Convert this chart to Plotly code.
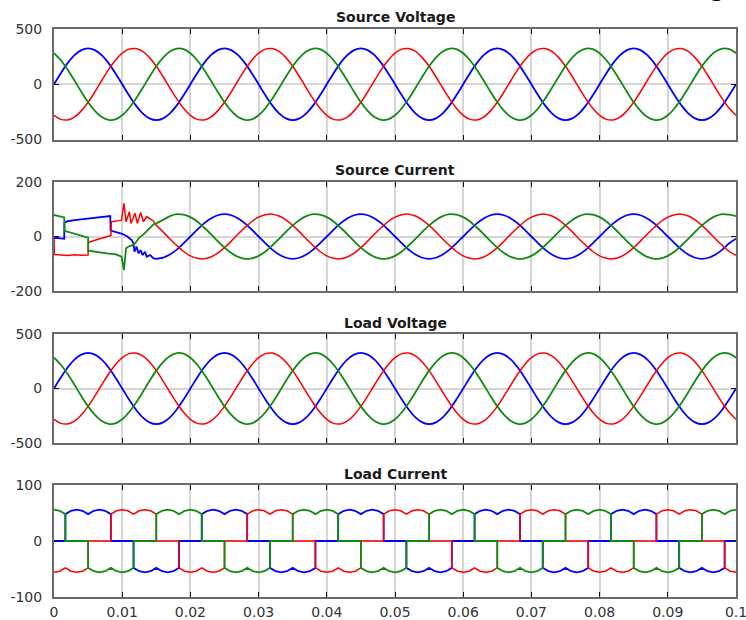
import numpy as np
import plotly.graph_objects as go

# ---------------- data ----------------
x_tick_vals = [0, 0.01, 0.02, 0.03, 0.04, 0.05, 0.06, 0.07, 0.08, 0.09, 0.1]
x_tick_text = ["0", "0.01", "0.02", "0.03", "0.04", "0.05", "0.06", "0.07", "0.08", "0.09", "0.1"]
titles = ["Source Voltage", "Source Current", "Load Voltage", "Load Current"]
y_ranges = [[-500, 500], [-200, 200], [-500, 500], [-100, 100]]
y_tick_vals = [[-500, 0, 500], [-200, 0, 200], [-500, 0, 500], [-100, 0, 100]]
y_tick_text = [["-500", "0", "500"], ["-200", "0", "200"], ["-500", "0", "500"], ["-100", "0", "100"]]

# voltage sampling: every 1 ms from 0 to 0.1 s
t_v = np.linspace(0, 0.1, 101)

source_va = [0, 100, 191, 263, 309, 325, 309, 263, 191, 100, 0, -100, -191, -263, -309, -325, -309, -263, -191, -100,
             0, 100, 191, 263, 309, 325, 309, 263, 191, 100, 0, -100, -191, -263, -309, -325, -309, -263, -191, -100,
             0, 100, 191, 263, 309, 325, 309, 263, 191, 100, 0, -100, -191, -263, -309, -325, -309, -263, -191, -100,
             0, 100, 191, 263, 309, 325, 309, 263, 191, 100, 0, -100, -191, -263, -309, -325, -309, -263, -191, -100,
             0, 100, 191, 263, 309, 325, 309, 263, 191, 100, 0, -100, -191, -263, -309, -325, -309, -263, -191, -100,
             0]
source_vb = [-281, -318, -323, -297, -241, -163, -68, 34, 132, 217, 281, 318, 323, 297, 241, 163, 68, -34, -132, -217,
             -281, -318, -323, -297, -241, -163, -68, 34, 132, 217, 281, 318, 323, 297, 241, 163, 68, -34, -132, -217,
             -281, -318, -323, -297, -241, -163, -68, 34, 132, 217, 281, 318, 323, 297, 241, 163, 68, -34, -132, -217,
             -281, -318, -323, -297, -241, -163, -68, 34, 132, 217, 281, 318, 323, 297, 241, 163, 68, -34, -132, -217,
             -281, -318, -323, -297, -241, -163, -68, 34, 132, 217, 281, 318, 323, 297, 241, 163, 68, -34, -132, -217,
             -281]
source_vc = [281, 217, 132, 34, -68, -163, -241, -297, -323, -318, -281, -217, -132, -34, 68, 163, 241, 297, 323, 318,
             281, 217, 132, 34, -68, -163, -241, -297, -323, -318, -281, -217, -132, -34, 68, 163, 241, 297, 323, 318,
             281, 217, 132, 34, -68, -163, -241, -297, -323, -318, -281, -217, -132, -34, 68, 163, 241, 297, 323, 318,
             281, 217, 132, 34, -68, -163, -241, -297, -323, -318, -281, -217, -132, -34, 68, 163, 241, 297, 323, 318,
             281, 217, 132, 34, -68, -163, -241, -297, -323, -318, -281, -217, -132, -34, 68, 163, 241, 297, 323, 318,
             281]

load_va = [0, 100, 191, 263, 309, 325, 309, 263, 191, 100, 0, -100, -191, -263, -309, -325, -309, -263, -191, -100,
           0, 100, 191, 263, 309, 325, 309, 263, 191, 100, 0, -100, -191, -263, -309, -325, -309, -263, -191, -100,
           0, 100, 191, 263, 309, 325, 309, 263, 191, 100, 0, -100, -191, -263, -309, -325, -309, -263, -191, -100,
           0, 100, 191, 263, 309, 325, 309, 263, 191, 100, 0, -100, -191, -263, -309, -325, -309, -263, -191, -100,
           0, 100, 191, 263, 309, 325, 309, 263, 191, 100, 0, -100, -191, -263, -309, -325, -309, -263, -191, -100,
           0]
load_vb = [-281, -318, -323, -297, -241, -163, -68, 34, 132, 217, 281, 318, 323, 297, 241, 163, 68, -34, -132, -217,
           -281, -318, -323, -297, -241, -163, -68, 34, 132, 217, 281, 318, 323, 297, 241, 163, 68, -34, -132, -217,
           -281, -318, -323, -297, -241, -163, -68, 34, 132, 217, 281, 318, 323, 297, 241, 163, 68, -34, -132, -217,
           -281, -318, -323, -297, -241, -163, -68, 34, 132, 217, 281, 318, 323, 297, 241, 163, 68, -34, -132, -217,
           -281, -318, -323, -297, -241, -163, -68, 34, 132, 217, 281, 318, 323, 297, 241, 163, 68, -34, -132, -217,
           -281]
load_vc = [281, 217, 132, 34, -68, -163, -241, -297, -323, -318, -281, -217, -132, -34, 68, 163, 241, 297, 323, 318,
           281, 217, 132, 34, -68, -163, -241, -297, -323, -318, -281, -217, -132, -34, 68, 163, 241, 297, 323, 318,
           281, 217, 132, 34, -68, -163, -241, -297, -323, -318, -281, -217, -132, -34, 68, 163, 241, 297, 323, 318,
           281, 217, 132, 34, -68, -163, -241, -297, -323, -318, -281, -217, -132, -34, 68, 163, 241, 297, 323, 318,
           281, 217, 132, 34, -68, -163, -241, -297, -323, -318, -281, -217, -132, -34, 68, 163, 241, 297, 323, 318,
           281]

# source current: start-up transient (time in ms) and steady part (every 1 ms from 16 ms)
isa_tr_t = [0, 0.5, 1.0, 1.5, 1.52, 2.0, 3.0, 4.0, 5.0, 6.0, 7.0, 8.0, 8.25, 8.3, 9.0, 10.0, 10.7, 11.4, 11.65,
            11.8, 12.1, 12.4, 12.7, 13.0, 13.35, 13.6, 14.1, 14.6, 15.0, 16.0]
isa_tr = [-6, -5, -7, -8, 51, 56, 60, 63, 66, 68, 70, 73, 75, 22, 17, 10, 1, -13, -25,
          -56, -37, -62, -50, -68, -56, -74, -68, -80, -82, -78]
isb_tr_t = [0, 0.05, 1.0, 2.0, 3.0, 4.0, 5.0, 5.03, 6.0, 7.0, 8.0, 8.35, 8.4, 9.0, 9.9, 10.26, 10.56, 11.05, 11.29,
            11.88, 12.22, 12.71, 13.1, 13.59, 14.08, 14.6, 14.8, 15.0, 16.0]
isb_tr = [-8, -66, -68, -70, -67, -69, -68, -22, -14, -6, 2, 4, 54, 56, 60, 122, 54, 91, 48,
          85, 48, 88, 54, 73, 64, 56, 46, 41, 17]
isc_tr_t = [0, 0.5, 1.0, 1.5, 1.55, 2.0, 3.0, 4.0, 5.0, 5.03, 6.0, 7.0, 8.0, 9.0, 9.9, 10.26, 10.56, 11.0, 11.5,
            12.0, 12.5, 13.0, 14.0, 14.6, 15.0, 16.0]
isc_tr = [79, 76, 73, 70, 21, 18, 12, 5, -4, -52, -56, -60, -63, -65, -74, -123, -43, -36, -33,
          -22, -4, 5, 30, 45, 48, 61]

t_is = np.linspace(0.016, 0.1, 85)
isa_ss = [-78, -66, -48, -25,
          0, 25, 48, 66, 78, 82, 78, 66, 48, 25, 0, -25, -48, -66, -78, -82, -78, -66, -48, -25,
          0, 25, 48, 66, 78, 82, 78, 66, 48, 25, 0, -25, -48, -66, -78, -82, -78, -66, -48, -25,
          0, 25, 48, 66, 78, 82, 78, 66, 48, 25, 0, -25, -48, -66, -78, -82, -78, -66, -48, -25,
          0, 25, 48, 66, 78, 82, 78, 66, 48, 25, 0, -25, -48, -66, -78, -82, -78, -66, -48, -25,
          -8]
isb_ss = [17, -9, -33, -55,
          -71, -80, -82, -75, -61, -41, -17, 9, 33, 55, 71, 80, 82, 75, 61, 41, 17, -9, -33, -55,
          -71, -80, -82, -75, -61, -41, -17, 9, 33, 55, 71, 80, 82, 75, 61, 41, 17, -9, -33, -55,
          -71, -80, -82, -75, -61, -41, -17, 9, 33, 55, 71, 80, 82, 75, 61, 41, 17, -9, -33, -55,
          -71, -80, -82, -75, -61, -41, -17, 9, 33, 55, 71, 80, 82, 75, 61, 41, 17, -9, -33, -55,
          -69]
isc_ss = [61, 75, 82, 80,
          71, 55, 33, 9, -17, -41, -61, -75, -82, -80, -71, -55, -33, -9, 17, 41, 61, 75, 82, 80,
          71, 55, 33, 9, -17, -41, -61, -75, -82, -80, -71, -55, -33, -9, 17, 41, 61, 75, 82, 80,
          71, 55, 33, 9, -17, -41, -61, -75, -82, -80, -71, -55, -33, -9, 17, 41, 61, 75, 82, 80,
          71, 55, 33, 9, -17, -41, -61, -75, -82, -80, -71, -55, -33, -9, 17, 41, 61, 75, 82, 80,
          75]

# load current: sampled every 15 electrical degrees, commutation instants listed twice
lc_deg = []
for d in range(0, 1801, 15):
    lc_deg.append(d)
    if d % 60 == 30 and d < 1800:
        lc_deg.append(d)
t_lc = np.array(lc_deg) / 18000.0

ila = [0, 0, 0,
       48, 54, 56, 54, 48, 48, 54, 56, 54, 48, 0, 0, 0, 0, 0, -48, -54, -56, -54, -48, -48, -54, -56, -54, -48, 0, 0, 0, 0, 0,
       48, 54, 56, 54, 48, 48, 54, 56, 54, 48, 0, 0, 0, 0, 0, -48, -54, -56, -54, -48, -48, -54, -56, -54, -48, 0, 0, 0, 0, 0,
       48, 54, 56, 54, 48, 48, 54, 56, 54, 48, 0, 0, 0, 0, 0, -48, -54, -56, -54, -48, -48, -54, -56, -54, -48, 0, 0, 0, 0, 0,
       48, 54, 56, 54, 48, 48, 54, 56, 54, 48, 0, 0, 0, 0, 0, -48, -54, -56, -54, -48, -48, -54, -56, -54, -48, 0, 0, 0, 0, 0,
       48, 54, 56, 54, 48, 48, 54, 56, 54, 48, 0, 0, 0, 0, 0, -48, -54, -56, -54, -48, -48, -54, -56, -54, -48,
       0, 0, 0]
ilb = [-56, -54, -48,
       -48, -54, -56, -54, -48, 0, 0, 0, 0, 0, 48, 54, 56, 54, 48, 48, 54, 56, 54, 48, 0, 0, 0, 0, 0, -48, -54, -56, -54, -48,
       -48, -54, -56, -54, -48, 0, 0, 0, 0, 0, 48, 54, 56, 54, 48, 48, 54, 56, 54, 48, 0, 0, 0, 0, 0, -48, -54, -56, -54, -48,
       -48, -54, -56, -54, -48, 0, 0, 0, 0, 0, 48, 54, 56, 54, 48, 48, 54, 56, 54, 48, 0, 0, 0, 0, 0, -48, -54, -56, -54, -48,
       -48, -54, -56, -54, -48, 0, 0, 0, 0, 0, 48, 54, 56, 54, 48, 48, 54, 56, 54, 48, 0, 0, 0, 0, 0, -48, -54, -56, -54, -48,
       -48, -54, -56, -54, -48, 0, 0, 0, 0, 0, 48, 54, 56, 54, 48, 48, 54, 56, 54, 48, 0, 0, 0, 0, 0,
       -48, -54, -56]
ilc = [56, 54, 48,
       0, 0, 0, 0, 0, -48, -54, -56, -54, -48, -48, -54, -56, -54, -48, 0, 0, 0, 0, 0, 48, 54, 56, 54, 48, 48, 54, 56, 54, 48,
       0, 0, 0, 0, 0, -48, -54, -56, -54, -48, -48, -54, -56, -54, -48, 0, 0, 0, 0, 0, 48, 54, 56, 54, 48, 48, 54, 56, 54, 48,
       0, 0, 0, 0, 0, -48, -54, -56, -54, -48, -48, -54, -56, -54, -48, 0, 0, 0, 0, 0, 48, 54, 56, 54, 48, 48, 54, 56, 54, 48,
       0, 0, 0, 0, 0, -48, -54, -56, -54, -48, -48, -54, -56, -54, -48, 0, 0, 0, 0, 0, 48, 54, 56, 54, 48, 48, 54, 56, 54, 48,
       0, 0, 0, 0, 0, -48, -54, -56, -54, -48, -48, -54, -56, -54, -48, 0, 0, 0, 0, 0, 48, 54, 56, 54, 48,
       48, 54, 56]

# ---------------- styling ----------------
W, H = 746, 620
BLUE, RED, GREEN = "#0000ff", "#ff0000", "#118a11"
FONT = "DejaVu Sans"
plot_left, plot_right = 54, 736
panel_px = [(29, 139.5), (182, 291), (333.7, 443.3), (485, 597)]
title_offset = [12, 12.5, 11, 11]

fig = go.Figure()


def add(x, y, color, idx, width=1.8, shape="spline"):
    fig.add_trace(go.Scatter(
        x=x, y=y, mode="lines", line=dict(color=color, width=width, shape=shape),
        xaxis="x" if idx == 1 else f"x{idx}", yaxis="y" if idx == 1 else f"y{idx}",
        showlegend=False, hoverinfo="skip"))


# panel 1
add(t_v, source_va, BLUE, 1)
add(t_v, source_vb, RED, 1, 1.5)
add(t_v, source_vc, GREEN, 1)
# panel 2
add(np.array(isa_tr_t) / 1000, isa_tr, BLUE, 2, 1.8, "linear")
add(np.array(isb_tr_t) / 1000, isb_tr, RED, 2, 1.5, "linear")
add(np.array(isc_tr_t) / 1000, isc_tr, GREEN, 2, 1.8, "linear")
add(t_is, isa_ss, BLUE, 2)
add(t_is, isb_ss, RED, 2, 1.5)
add(t_is, isc_ss, GREEN, 2)
# panel 3
add(t_v, load_va, BLUE, 3)
add(t_v, load_vb, RED, 3, 1.5)
add(t_v, load_vc, GREEN, 3)
# panel 4
add(t_lc, ila, BLUE, 4, 1.8, "linear")
add(t_lc, ilb, RED, 4, 1.5, "linear")
add(t_lc, ilc, GREEN, 4, 1.8, "linear")

layout = dict(width=W, height=H, margin=dict(l=0, r=0, t=0, b=0, autoexpand=False),
              paper_bgcolor="white", plot_bgcolor="white", showlegend=False)

annotations = []
for i in range(4):
    top, bot = panel_px[i]
    n = "" if i == 0 else str(i + 1)
    ax_common = dict(showline=True, linecolor="#6a6a6a", linewidth=2, mirror="ticks",
                     ticks="inside", ticklen=5, tickwidth=1.3, tickcolor="#111111",
                     showgrid=True, gridcolor="#d6d6d6", gridwidth=2, zeroline=False,
                     automargin=False,
                     tickfont=dict(family=FONT, size=14, color="#333333"))
    layout["xaxis" + n] = dict(ax_common, domain=[plot_left / W, plot_right / W], range=[0, 0.1],
                               anchor="y" + n, tickmode="array", tickvals=x_tick_vals,
                               ticktext=x_tick_text, showticklabels=(i == 3), ticklabelstandoff=1,
                               ticklabeloverflow="allow")
    layout["yaxis" + n] = dict(ax_common, domain=[(H - bot) / H, (H - top) / H], range=y_ranges[i],
                               anchor="x" + n, tickmode="array", tickvals=y_tick_vals[i],
                               ticktext=y_tick_text[i], ticklabelstandoff=7)
    annotations.append(dict(text="<b>" + titles[i] + "</b>", xref="paper", yref="paper",
                            x=((plot_left + plot_right) / 2) / W, y=(H - (top - title_offset[i])) / H,
                            xanchor="center", yanchor="middle", showarrow=False,
                            font=dict(family=FONT, size=14, color="#1a1a1a")))

# bottom of a caption glyph cut off at the top edge of the picture
annotations.append(dict(text="<b>g</b>", xref="paper", yref="paper", x=716 / W, y=1 - 4 / H,
                        xanchor="center", yanchor="bottom", showarrow=False,
                        font=dict(family="Liberation Serif", size=26, color="black")))
layout["annotations"] = annotations

fig.update_layout(**layout)
fig.write_html("out.html", config={"displayModeBar": False},
               post_script="document.body.style.margin='0';document.body.style.overflow='hidden';")
